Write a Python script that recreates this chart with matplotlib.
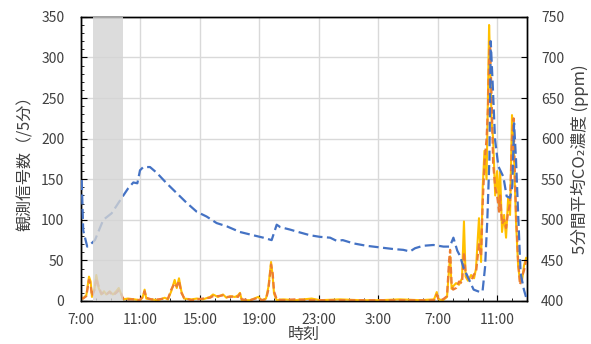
import numpy as np
import matplotlib
matplotlib.use('Agg')
import matplotlib.pyplot as plt
from matplotlib.ticker import MultipleLocator

plt.rcParams['font.family'] = ['Noto Sans CJK JP', 'DejaVu Sans']

# hours elapsed since 7:00 on day 1
tick_hours = [0, 4, 8, 12, 16, 20, 24, 28]
tick_labels = ['7:00', '11:00', '15:00', '19:00', '23:00', '3:00', '7:00', '11:00']
shade_start = 0.8
shade_end = 2.8

# CO2 (ppm), right axis
co2_hours = [0.05, 0.15, 0.42, 0.6, 0.94, 1.5, 2.06, 2.74, 3.18, 3.52, 3.79, 3.97, 4.19, 4.64,
             5.09, 5.76, 6.43, 7.1, 7.78, 8.45, 9.12, 9.8, 10.69, 11.58, 12.26, 12.82, 13.16,
             13.4, 14.05, 14.61, 15.4, 16.07, 16.75, 17.2, 17.6, 18.31, 19.2, 20.1, 21.0, 21.67,
             22.12, 22.46, 23.0, 23.7, 24.37, 24.8, 25.04, 25.3, 25.5, 25.7, 26.05, 26.4, 26.83,
             27.0, 27.17, 27.32, 27.46, 27.55, 27.68, 27.84, 28.06, 28.4, 28.62, 28.85, 29.0,
             29.12, 29.25, 29.4, 29.56, 29.78, 29.92]
co2_ppm = [549, 487, 467, 469, 475, 500, 508, 527, 539, 546, 545, 561, 565, 565,
           558, 545, 533, 521, 510, 504, 496, 492, 485, 481, 478, 475, 494,
           491, 488, 485, 481, 479, 478, 474, 475, 471, 468, 466, 464, 463,
           461, 465, 468, 469, 467, 467, 478, 462, 455, 442, 428, 414, 411,
           412, 442, 500, 574, 720, 668, 599, 566, 553, 529, 527, 541,
           619, 574, 504, 434, 414, 405]

# observed signal counts per 5 min, left axis
sig_hours = [0.0, 0.13, 0.36, 0.54, 0.65, 0.74, 0.92, 1.03, 1.19, 1.37, 1.55, 1.7, 1.93, 2.15,
             2.37, 2.54, 2.67, 2.82, 3.16, 3.61, 3.95, 4.14, 4.28, 4.39, 4.73, 5.18, 5.63, 5.85,
             6.07, 6.3, 6.44, 6.59, 6.75, 6.93, 7.42, 7.8, 8.2, 8.68, 8.88, 9.21, 9.55, 9.78,
             10.02, 10.36, 10.56, 10.69, 10.81, 11.37, 11.92, 12.15, 12.44, 12.6, 12.78, 12.89,
             12.98, 13.16, 13.58, 14.39, 15.51, 16.07, 17.42, 18.76, 20.11, 21.45, 22.8, 23.74,
             23.92, 24.04, 24.34, 24.61, 24.75, 24.82, 24.92, 25.02, 25.22, 25.42, 25.62, 25.75,
             25.86, 26.02, 26.23, 26.43, 26.56, 26.76, 26.9, 27.01, 27.13, 27.27, 27.37, 27.44,
             27.5, 27.61, 27.71, 27.85, 27.98, 28.11, 28.18, 28.31, 28.45, 28.58, 28.72, 28.85,
             28.98, 29.09, 29.15, 29.25, 29.39, 29.52, 29.66, 29.79, 29.93]
sig_solid = [5, 3, 7, 30, 24, 5, 16, 32, 16, 8, 12, 8, 12, 8,
             12, 16, 10, 2, 3, 2, 1, 4, 14, 3, 2, 1, 4, 2,
             12, 26, 16, 28, 12, 3, 2, 3, 2, 5, 8, 5, 8, 4,
             6, 5, 7, 10, 1, 1, 5, 1, 3, 17, 48, 30,
             9, 1, 2, 1, 3, 1, 2, 1, 1, 2, 1, 2,
             11, 2, 1, 5, 40, 55, 15, 18, 22, 20, 28, 98,
             30, 25, 32, 28, 40, 102, 48, 140, 185, 150, 260, 340,
             300, 220, 200, 130, 160, 118, 160, 85, 106, 78, 127, 106,
             229, 200, 155, 97, 44, 24, 26, 44, 53]
sig_dashed = [4, 3, 6, 26, 20, 6, 14, 28, 18, 9, 10, 8, 11, 7,
              10, 13, 11, 3, 2, 2, 1, 5, 12, 4, 2, 2, 3, 3,
              14, 22, 18, 25, 10, 4, 1, 2, 3, 4, 6, 6, 7, 5,
              5, 6, 5, 9, 2, 1, 4, 1, 2, 14, 45, 34,
              12, 2, 1, 2, 1, 1, 1, 1, 1, 1, 1, 1,
              8, 2, 2, 6, 50, 63, 20, 14, 16, 24, 22, 60,
              35, 28, 25, 33, 35, 70, 55, 120, 170, 200, 240, 300,
              320, 250, 170, 140, 130, 110, 130, 95, 100, 90, 110, 120,
              200, 225, 170, 110, 50, 20, 30, 38, 50]


def main():
    fig, ax1 = plt.subplots(figsize=(5.91, 3.44), dpi=100)
    fig.subplots_adjust(left=0.137, right=0.892, bottom=0.125, top=0.951)
    text_color = '#404040'

    ax1.plot(sig_hours, sig_solid, color='#FFC000', lw=1.5, zorder=3)
    ax1.plot(sig_hours, sig_dashed, color='#ED7D31', lw=1.6, linestyle=(0, (3, 1.5)), zorder=4)

    ax1.set_xlim(0, 30)
    ax1.set_ylim(0, 350)
    ax1.set_xticks(tick_hours)
    ax1.set_xticklabels(tick_labels)
    ax1.xaxis.set_minor_locator(MultipleLocator(1))
    ax1.yaxis.set_major_locator(MultipleLocator(50))
    ax1.yaxis.set_minor_locator(MultipleLocator(10))
    ax1.grid(True, which='major', color='#d9d9d9', lw=1)
    ax1.set_axisbelow(True)
    ax1.tick_params(which='major', direction='in', length=4, labelsize=10, colors='black', labelcolor=text_color)
    ax1.tick_params(which='minor', direction='in', length=2.5, colors='black')
    ax1.tick_params(axis='x', pad=9)
    ax1.tick_params(axis='y', pad=12)
    ax1.set_ylabel('観測信号数（/5分）', fontsize=11.5, color=text_color, labelpad=5)
    ax1.set_xlabel('時刻', fontsize=11.5, color=text_color, labelpad=-1)

    ax2 = ax1.twinx()
    ax2.plot(co2_hours, co2_ppm, color='#4472C4', lw=1.6, linestyle=(0, (4.5, 2)), zorder=3)
    ax2.set_ylim(400, 750)
    ax2.yaxis.set_major_locator(MultipleLocator(50))
    ax2.tick_params(direction='in', length=4, labelsize=10, pad=10, colors='black', labelcolor=text_color)
    ax2.set_ylabel('5分間平均CO₂濃度 (ppm)', fontsize=12, color=text_color, labelpad=5)

    # shaded period drawn over the lines
    ax2.axvspan(shade_start, shade_end, color='#d4d4d4', alpha=0.8, lw=0, zorder=5)

    for ax in (ax1, ax2):
        for sp in ax.spines.values():
            sp.set_color('black')
            sp.set_linewidth(1)

    plt.savefig('out.png', dpi=100)


if __name__ == "__main__":
    main()
